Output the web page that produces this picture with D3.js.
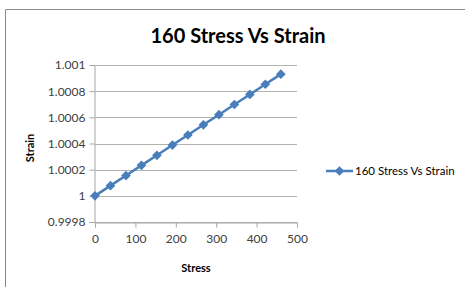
<!DOCTYPE html>
<html>
<head>
<meta charset="utf-8">
<script src="https://cdn.jsdelivr.net/npm/d3@7"></script>
<style>
  body { margin: 0; background: #fff; }
  svg { display: block; font-family: Lato, "Open Sans", sans-serif; }
</style>
</head>
<body>
<svg width="465" height="287"></svg>
<script>
var stress = [0, 38.3, 76.7, 115, 153.3, 191.7, 230, 268.3, 306.7, 345, 383.3, 421.7, 460];
var strain = [1, 1.000078, 1.000155, 1.000233, 1.00031, 1.000388, 1.000465,
              1.000543, 1.00062, 1.000698, 1.000775, 1.000853, 1.00093];
var xTicks = [0, 100, 200, 300, 400, 500];
var yTicks = [0.9998, 1, 1.0002, 1.0004, 1.0006, 1.0008, 1.001];
var seriesName = "160 Stress Vs Strain";

var svg = d3.select("svg");

// chart frame (only top and left edges show in the picture)
svg.append("path")
    .attr("d", "M5.5,287V9.5H465")
    .attr("fill", "none")
    .attr("stroke", "#8a8a8a")
    .attr("stroke-width", 1);

var x = d3.scaleLinear().domain([0, 500]).range([95, 297]);
var y = d3.scaleLinear().domain([0.9998, 1.001]).range([222, 65]);

// gridlines
svg.append("g")
  .selectAll("line")
  .data(yTicks)
  .enter().append("line")
    .attr("x1", x(0))
    .attr("x2", x(500))
    .attr("y1", function(d) { return Math.round(y(d)) + 0.5; })
    .attr("y2", function(d) { return Math.round(y(d)) + 0.5; })
    .attr("stroke", "#b3b3b3");

var yAxis = svg.append("g")
    .attr("transform", "translate(" + (x(0) - 0.5) + ",0)")
    .call(d3.axisLeft(y).tickValues(yTicks).tickSize(5).tickPadding(4)
      .tickFormat(function(d) { return d3.format("")(+d.toFixed(4)); }));

var xAxis = svg.append("g")
    .attr("transform", "translate(0," + (Math.round(y(0.9998)) + 0.5) + ")")
    .call(d3.axisBottom(x).tickValues(xTicks).tickSize(5).tickPadding(7));

[xAxis, yAxis].forEach(function(ax) {
  ax.select(".domain").attr("stroke", "#a6a6a6");
  ax.selectAll(".tick line").attr("stroke", "#a6a6a6");
  ax.selectAll("text")
    .attr("fill", "#404040")
    .style("font-size", "12px")
    .style("font-family", "Lato, 'Open Sans', sans-serif");
});

var line = d3.line()
    .x(function(d, i) { return x(stress[i]); })
    .y(function(d) { return y(d); });

svg.append("path")
    .datum(strain)
    .attr("d", line)
    .attr("fill", "none")
    .attr("stroke", "#4a7ebb")
    .attr("stroke-width", 2.5);

var diamond = d3.symbol().type(d3.symbolDiamond2).size(60);

svg.append("g")
  .selectAll("path")
  .data(strain)
  .enter().append("path")
    .attr("d", diamond)
    .attr("transform", function(d, i) { return "translate(" + x(stress[i]) + "," + y(d) + ")"; })
    .attr("fill", "#4a7ebb");

// title
svg.append("text")
    .attr("x", 238)
    .attr("y", 43)
    .attr("text-anchor", "middle")
    .style("font-size", "20px")
    .style("font-weight", "bold")
    .attr("fill", "#000")
    .text(seriesName);

// axis titles
svg.append("text")
    .attr("transform", "translate(34,148) rotate(-90)")
    .attr("text-anchor", "middle")
    .style("font-size", "11px")
    .style("font-weight", "bold")
    .attr("fill", "#000")
    .text("Strain");

svg.append("text")
    .attr("x", 196)
    .attr("y", 272)
    .attr("text-anchor", "middle")
    .style("font-size", "11px")
    .style("font-weight", "bold")
    .attr("fill", "#000")
    .text("Stress");

// legend
var legend = svg.append("g").attr("transform", "translate(326,171)");
legend.append("line")
    .attr("x1", 0).attr("x2", 27)
    .attr("stroke", "#4a7ebb")
    .attr("stroke-width", 2.5);
legend.append("path")
    .attr("d", diamond)
    .attr("transform", "translate(13.5,0)")
    .attr("fill", "#4a7ebb");
legend.append("text")
    .attr("x", 29)
    .attr("y", 4)
    .style("font-size", "11.5px")
    .attr("fill", "#000")
    .text(seriesName);
</script>
</body>
</html>
